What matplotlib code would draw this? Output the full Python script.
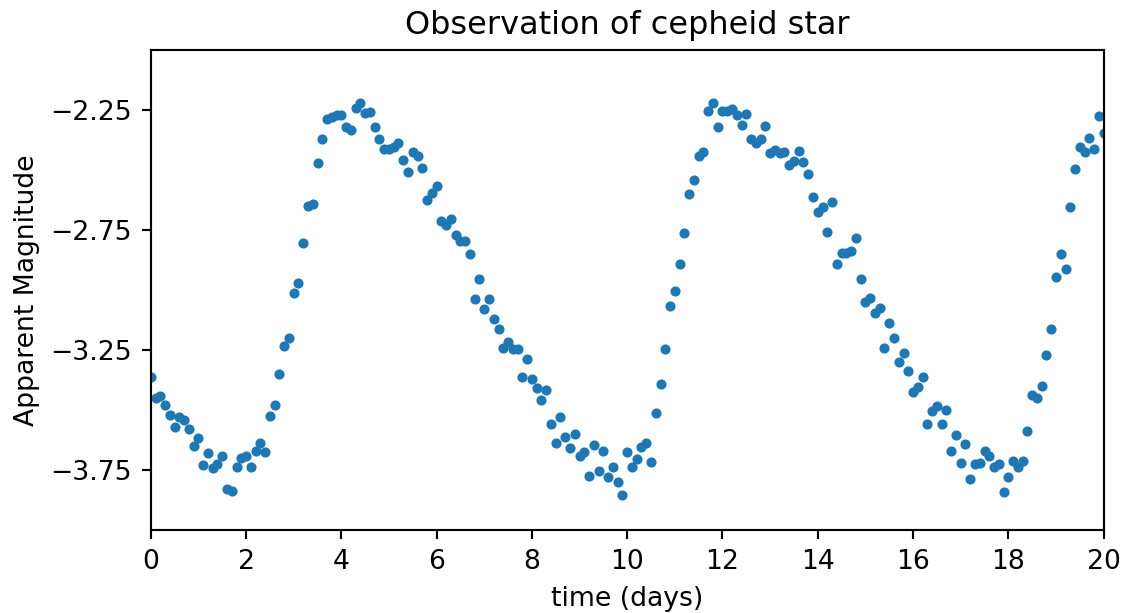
#Import numpy and matplotlib

import numpy as np
import matplotlib.pyplot as plt

#Observation times: one reading every 0.1 day from day 0 to day 20

time_days = np.linspace(0, 20, 201)

#Apparent magnitude

magnitude = [
    -3.36, -3.45, -3.44, -3.48, -3.52, -3.57, -3.53, -3.54, -3.58, -3.65,
    -3.615, -3.73, -3.68, -3.74, -3.725, -3.69, -3.83, -3.835, -3.735, -3.70,
    -3.69, -3.735, -3.67, -3.636, -3.675, -3.525, -3.48, -3.35, -3.233, -3.20,
    -3.012, -2.968, -2.805, -2.647, -2.642, -2.469, -2.371, -2.288, -2.28, -2.27,
    -2.27, -2.318, -2.332, -2.239, -2.22, -2.26, -2.257, -2.32, -2.368, -2.41,
    -2.41, -2.402, -2.388, -2.458, -2.508, -2.424, -2.441, -2.49, -2.622, -2.594,
    -2.566, -2.713, -2.73, -2.703, -2.768, -2.796, -2.796, -2.848, -3.036, -2.952,
    -3.077, -3.036, -3.12, -3.16, -3.24, -3.215, -3.243, -3.243, -3.36, -3.288,
    -3.37, -3.406, -3.459, -3.417, -3.556, -3.637, -3.53, -3.61, -3.657, -3.60,
    -3.69, -3.676, -3.775, -3.643, -3.753, -3.67, -3.777, -3.738, -3.797, -3.853,
    -3.673, -3.738, -3.703, -3.655, -3.636, -3.716, -3.51, -3.392, -3.243, -3.065,
    -3.005, -2.891, -2.761, -2.598, -2.541, -2.441, -2.424, -2.253, -2.218, -2.32,
    -2.253, -2.253, -2.246, -2.268, -2.31, -2.267, -2.371, -2.385, -2.368, -2.316,
    -2.427, -2.417, -2.427, -2.424, -2.479, -2.462, -2.42, -2.466, -2.517, -2.61,
    -2.675, -2.652, -2.759, -2.633, -2.89, -2.845, -2.845, -2.838, -2.782, -2.952,
    -3.051, -3.033, -3.095, -3.074, -3.242, -3.137, -3.197, -3.297, -3.26, -3.335,
    -3.423, -3.402, -3.36, -3.559, -3.504, -3.484, -3.556, -3.501, -3.668, -3.605,
    -3.721, -3.64, -3.786, -3.726, -3.719, -3.668, -3.689, -3.738, -3.726, -3.842,
    -3.777, -3.71, -3.738, -3.71, -3.587, -3.438, -3.449, -3.40, -3.271, -3.161,
    -2.945, -2.848, -2.912, -2.654, -2.494, -2.403, -2.424, -2.364, -2.413, -2.274,
    -2.343,
]

y_ticks = [-3.75, -3.25, -2.75, -2.25]

#Scatter of the light curve

fig = plt.figure(figsize=(1125 / 192, 613 / 192), dpi=192)
plt.plot(time_days, magnitude, '.', markersize=5.6)
plt.xlim(0, 20)
plt.ylim(-4, -2)
plt.xticks(range(0, 21, 2))
plt.yticks(y_ticks)

plt.title('Observation of cepheid star')
plt.xlabel('time (days)')
plt.ylabel('Apparent Magnitude')

plt.subplots_adjust(left=0.134, right=0.981, top=0.918, bottom=0.135)
plt.savefig('out.png', dpi=192)
